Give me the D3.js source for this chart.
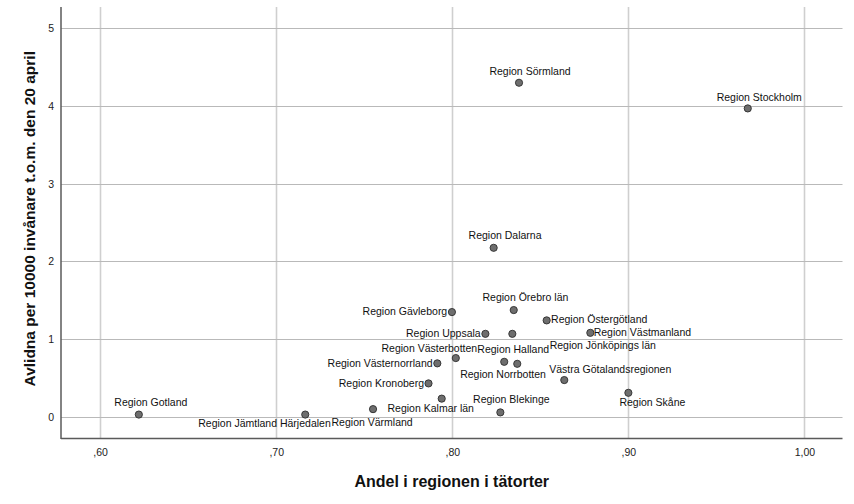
<!DOCTYPE html>
<html>
<head>
<meta charset="utf-8">
<script src="https://cdn.jsdelivr.net/npm/d3@7"></script>
<style>
  html, body { margin: 0; padding: 0; background: #fff; }
  svg { display: block; font-family: "Liberation Sans", Arial, sans-serif; }
</style>
</head>
<body>
<svg id="chart" width="854" height="504"></svg>
<script>
// Regions, share living in urban areas (tätorter), deaths per 10 000 inhabitants up to 20 April
const regions = [
  "Region Gotland", "Region Jämtland Härjedalen", "Region Värmland", "Region Kalmar län",
  "Region Kronoberg", "Region Västernorrland", "Region Västerbotten", "Region Gävleborg",
  "Region Uppsala", "Region Jönköpings län", "Region Örebro län", "Region Östergötland",
  "Region Västmanland", "Region Halland", "Region Norrbotten", "Västra Götalandsregionen",
  "Region Skåne", "Region Blekinge", "Region Dalarna", "Region Sörmland", "Region Stockholm"
];
const urbanShare = [
  0.622, 0.7165, 0.755, 0.794,
  0.7865, 0.7915, 0.802, 0.7998,
  0.8188, 0.8341, 0.8349, 0.8536,
  0.8784, 0.8295, 0.8369, 0.8636,
  0.900, 0.8273, 0.8235, 0.8379, 0.9678
];
const deathsPer10k = [
  0.03, 0.03, 0.10, 0.235,
  0.431, 0.689, 0.757, 1.349,
  1.069, 1.069, 1.375, 1.242,
  1.082, 0.709, 0.683, 0.474,
  0.31, 0.058, 2.176, 4.30, 3.97
];
const xTicks = [0.6, 0.7, 0.8, 0.9, 1.0];
const yTicks = [0, 1, 2, 3, 4, 5];
const xTitle = "Andel i regionen i tätorter";
const yTitle = "Avlidna per 10000 invånare t.o.m. den 20 april";

// Where each point's label sits: text-anchor, horizontal and baseline offset from the marker
const labelLayout = {
  "Region Gotland": ["middle", 12, -8.5],
  "Region Jämtland Härjedalen": ["end", 25.5, 12],
  "Region Värmland": ["start", -41.5, 17.3],
  "Region Kalmar län": ["middle", -11, 13.8],
  "Region Kronoberg": ["end", -4.5, 3.7],
  "Region Västernorrland": ["end", -4.7, 3.4],
  "Region Västerbotten": ["end", 21.4, -6.3],
  "Region Gävleborg": ["end", -4.7, 3.2],
  "Region Uppsala": ["end", -4.7, 3.2],
  "Region Jönköpings län": ["start", 37.3, 15.3],
  "Region Örebro län": ["middle", 11.7, -9],
  "Region Östergötland": ["start", 4.4, 2.6],
  "Region Västmanland": ["start", 3.3, 3.3],
  "Region Halland": ["middle", 9, -8.4],
  "Region Norrbotten": ["middle", -14.2, 14],
  "Västra Götalandsregionen": ["middle", 46, -6.7],
  "Region Skåne": ["middle", 24, 13.3],
  "Region Blekinge": ["middle", 11, -9],
  "Region Dalarna": ["middle", 11.4, -8.7],
  "Region Sörmland": ["middle", 11, -7.7],
  "Region Stockholm": ["middle", 11.5, -7.6]
};

const points = regions.map((name, i) => ({ name, x: urbanShare[i], y: deathsPer10k[i] }));

const svg = d3.select("#chart");
const plot = { left: 61, right: 842.5, top: 7, bottom: 438.5 };

const x = d3.scaleLinear().domain([0.5778, 1.0216]).range([plot.left, plot.right]);
const y = d3.scaleLinear().domain([-0.278, 5.275]).range([plot.bottom, plot.top]);

const fmtX = v => d3.format(".2f")(v).replace(".", ",").replace(/^0/, "");

// grid lines
const grid = svg.append("g");
grid.selectAll("line.v").data(xTicks).join("line")
  .attr("x1", d => Math.round(x(d)) + 0.5).attr("x2", d => Math.round(x(d)) + 0.5)
  .attr("y1", plot.top).attr("y2", plot.bottom)
  .attr("stroke", "#cfcfcf").attr("stroke-width", 1.6);
grid.selectAll("line.h").data(yTicks).join("line")
  .attr("y1", d => Math.round(y(d)) + 0.5).attr("y2", d => Math.round(y(d)) + 0.5)
  .attr("x1", plot.left).attr("x2", plot.right)
  .attr("stroke", "#b9b9b9").attr("stroke-width", 1.2);

// axes (labels only, lines drawn separately)
const xAxis = svg.append("g")
  .attr("transform", `translate(0,${plot.bottom})`)
  .call(d3.axisBottom(x).tickValues(xTicks).tickFormat(fmtX).tickSize(0).tickPadding(10));
const yAxis = svg.append("g")
  .attr("transform", `translate(${plot.left},0)`)
  .call(d3.axisLeft(y).tickValues(yTicks).tickFormat(d3.format("d")).tickSize(0).tickPadding(7));
[xAxis, yAxis].forEach(a => {
  a.select(".domain").remove();
  a.selectAll("text").attr("font-size", 10.5).attr("fill", "#222")
    .attr("font-family", "'Liberation Sans', Arial, sans-serif");
});

svg.append("line")
  .attr("x1", plot.left).attr("x2", plot.left)
  .attr("y1", plot.top).attr("y2", plot.bottom + 0.5)
  .attr("stroke", "#5a5a5a").attr("stroke-width", 1.5);
svg.append("line")
  .attr("x1", plot.left).attr("x2", plot.right)
  .attr("y1", plot.bottom).attr("y2", plot.bottom)
  .attr("stroke", "#5a5a5a").attr("stroke-width", 1.5);

// markers
svg.append("g").selectAll("circle").data(points).join("circle")
  .attr("cx", d => x(d.x)).attr("cy", d => y(d.y)).attr("r", 3.6)
  .attr("fill", "#6e6e6e").attr("stroke", "#2e2e2e").attr("stroke-width", 0.9);

// point labels
svg.append("g").selectAll("text").data(points).join("text")
  .attr("x", d => x(d.x) + labelLayout[d.name][1])
  .attr("y", d => y(d.y) + labelLayout[d.name][2])
  .attr("text-anchor", d => labelLayout[d.name][0])
  .attr("font-size", 10.5).attr("fill", "#111")
  .text(d => d.name);

// axis titles
svg.append("text")
  .attr("x", (plot.left + plot.right) / 2).attr("y", 487)
  .attr("text-anchor", "middle").attr("font-size", 16).attr("font-weight", "bold")
  .attr("fill", "#111").text(xTitle);
svg.append("text")
  .attr("transform", `translate(35,${(plot.top + plot.bottom) / 2 - 4}) rotate(-90)`)
  .attr("text-anchor", "middle").attr("font-size", 15.5).attr("font-weight", "bold")
  .attr("fill", "#111").text(yTitle);
</script>
</body>
</html>
